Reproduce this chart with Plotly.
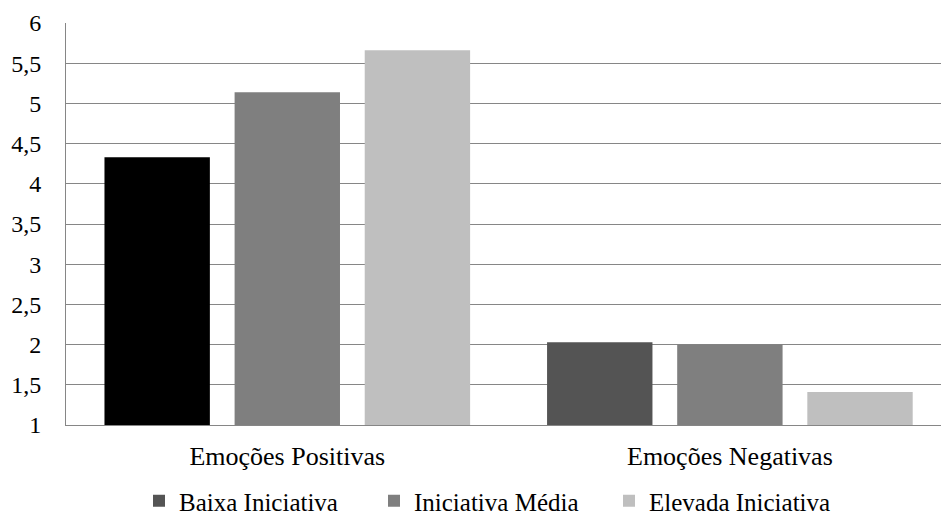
import plotly.graph_objects as go

categories = ["Emoções Positivas", "Emoções Negativas"]
series_names = ["Baixa Iniciativa", "Iniciativa Média", "Elevada Iniciativa"]
baixa = [4.33, 2.03]
media = [5.14, 2.00]
elevada = [5.66, 1.41]
y_ticks = [1, 1.5, 2, 2.5, 3, 3.5, 4, 4.5, 5, 5.5, 6]

# colours per bar (first group bar of "Baixa" is black, second is dark grey)
baixa_colors = ["#000000", "#545454"]
media_color = "#7f7f7f"
elevada_color = "#bfbfbf"

FONT = "Liberation Serif"

fig = go.Figure()
# data passed in reverse order so that the legend swatch takes the dark-grey colour;
# category order on the axis is fixed explicitly below
fig.add_trace(go.Bar(x=categories[::-1], y=baixa[::-1], name=series_names[0],
                     marker=dict(color=baixa_colors[::-1], line=dict(width=0))))
fig.add_trace(go.Bar(x=categories, y=media, name=series_names[1],
                     marker=dict(color=media_color, line=dict(width=0))))
fig.add_trace(go.Bar(x=categories, y=elevada, name=series_names[2],
                     marker=dict(color=elevada_color, line=dict(width=0))))

fig.update_layout(
    width=941, height=524,
    margin=dict(l=66, r=0, t=23, b=99, autoexpand=False),
    paper_bgcolor="white", plot_bgcolor="white",
    barmode="group", bargap=0.118, bargroupgap=0.19,
    separators=", ",
    font=dict(family=FONT, size=26, color="black"),
    showlegend=True,
    legend=dict(orientation="h", x=(139 - 66) / 875, xanchor="left",
                yref="container", y=-0.01, yanchor="bottom",
                font=dict(family=FONT, size=25, color="black"),
                itemwidth=30, entrywidth=190, traceorder="normal",
                bgcolor="rgba(0,0,0,0)", borderwidth=0),
)
fig.update_xaxes(
    categoryorder="array", categoryarray=categories,
    range=[-0.5, 1.477],
    showline=True, linecolor="#868686", linewidth=1,
    showgrid=False, ticks="", ticklabelstandoff=8,
    tickfont=dict(family=FONT, size=26, color="black"),
)
fig.update_yaxes(
    range=[1, 6], tickvals=y_ticks,
    showline=True, linecolor="#868686", linewidth=1,
    showgrid=True, gridcolor="#868686", gridwidth=1,
    ticks="", ticklabelstandoff=19, zeroline=False,
    tickfont=dict(family=FONT, size=24, color="black"),
)

fig.write_html("out.html")
